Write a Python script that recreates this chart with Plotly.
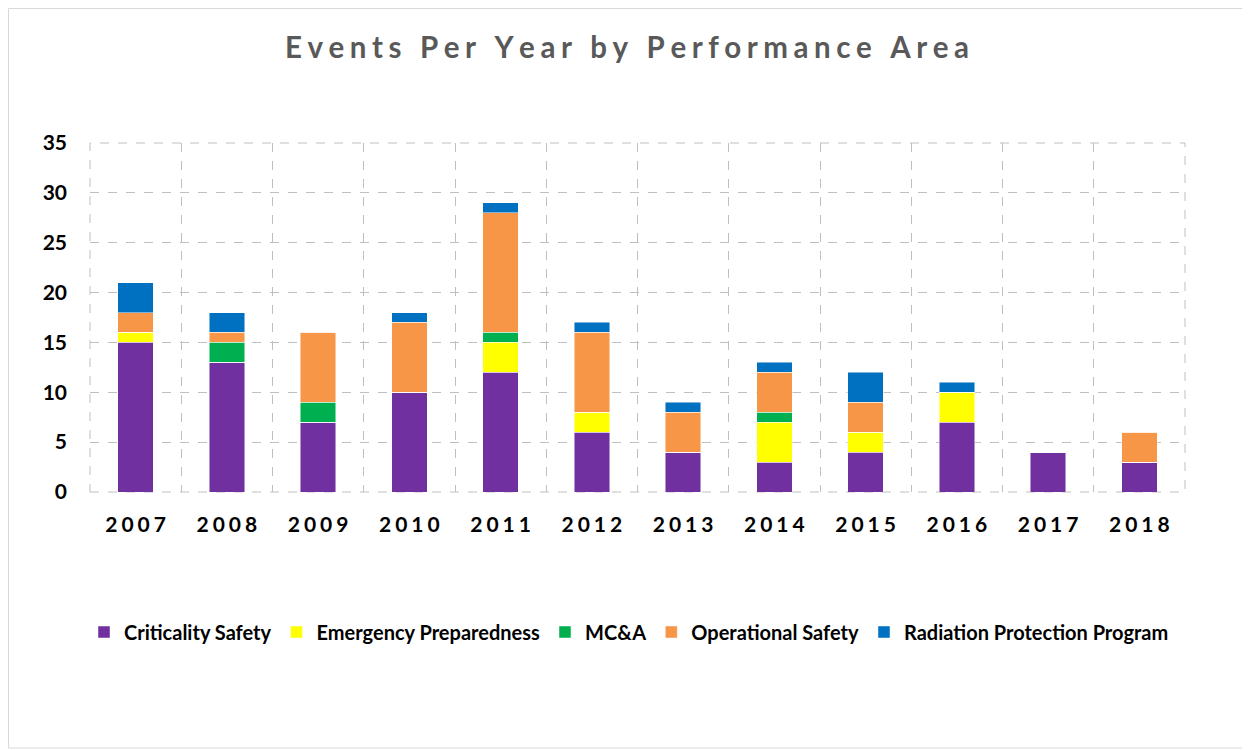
import plotly.graph_objects as go

years = ["2007", "2008", "2009", "2010", "2011", "2012", "2013", "2014", "2015", "2016", "2017", "2018"]
criticality = [15, 13, 7, 10, 12, 6, 4, 3, 4, 7, 4, 3]
emergency = [1, 0, 0, 0, 3, 2, 0, 4, 2, 3, 0, 0]
mcna = [0, 2, 2, 0, 1, 0, 0, 1, 0, 0, 0, 0]
operational = [2, 1, 7, 7, 12, 8, 4, 4, 3, 0, 0, 3]
radiation = [3, 2, 0, 1, 1, 1, 1, 1, 3, 1, 0, 0]

series = [
    ("Criticality Safety", criticality, "#7030A0"),
    ("Emergency Preparedness", emergency, "#FFFF00"),
    ("MC&A", mcna, "#00B050"),
    ("Operational Safety", operational, "#F79646"),
    ("Radiation Protection Program", radiation, "#0070C0"),
]


def spaced(s, gap="\u2009", wordgap="\u2003"):
    return wordgap.join(gap.join(w) for w in s.split(" "))


fig = go.Figure()
for name, vals, color in series:
    fig.add_trace(go.Bar(
        x=years, y=vals, name=name,
        marker=dict(color=color, line=dict(color="rgba(255,255,255,0.6)", width=0.8)),
    ))

W, H = 1250, 750
# page body has an 8px offset; plot area in viewport: x 90..1185, y 143..492
L, T = 82, 135
pw, ph = 1095, 349
R = W - L - pw
B = H - T - ph

fig.update_layout(
    width=W, height=H,
    barmode="stack", bargap=0.61,
    plot_bgcolor="white", paper_bgcolor="white",
    margin=dict(l=L, r=R, t=T, b=B),
    font=dict(family="Lato", color="#000000"),
    title=dict(
        text="<b>" + spaced("Events Per Year by Performance Area", gap="\u2009\u200a", wordgap="\u2002\u2009") + "</b>",
        x=(627 - 8 - L) / pw, xref="paper", xanchor="center", y=1 - 40 / H, yanchor="middle",
        font=dict(size=29.5, color="#595959", family="Lato"),
    ),
    legend=dict(
        orientation="h", x=(629 - 8 - L) / pw, xanchor="center",
        y=(T + ph - 624) / ph, yanchor="middle",
        font=dict(size=20, family="Lato", color="#000000", weight="bold"),
        traceorder="normal", itemwidth=30, tracegroupgap=0,
    ),
    xaxis=dict(
        type="category", tickson="boundaries", showgrid=True,
        gridcolor="#BFBFBF", griddash="dash", gridwidth=1,
        ticks="", ticklabelstandoff=18,
        tickmode="array", tickvals=years,
        ticktext=[spaced(y, gap="\u2009\u200a") for y in years],
        tickfont=dict(size=21, family="Lato", color="#000000", weight="bold"),
        showline=False, zeroline=False,
    ),
    yaxis=dict(
        range=[0, 35], dtick=5, showgrid=True,
        gridcolor="#BFBFBF", griddash="dash", gridwidth=1,
        ticks="", ticklabelstandoff=22,
        tickfont=dict(size=21, family="Lato", color="#000000", weight="bold"),
        zeroline=False, showline=False,
    ),
    shapes=[
        dict(type="rect", xref="paper", yref="paper",
             x0=(0.5 - L) / pw, x1=(1239 - L) / pw,
             y0=(T + ph - 740) / ph, y1=(T + ph - 0.5) / ph,
             line=dict(color="#D9D9D9", width=1), layer="below"),
        dict(type="rect", xref="paper", yref="paper", x0=0, x1=1, y0=0, y1=1,
             line=dict(color="#BFBFBF", width=1, dash="dash"), layer="below"),
    ],
)

fig.write_html("out.html")
